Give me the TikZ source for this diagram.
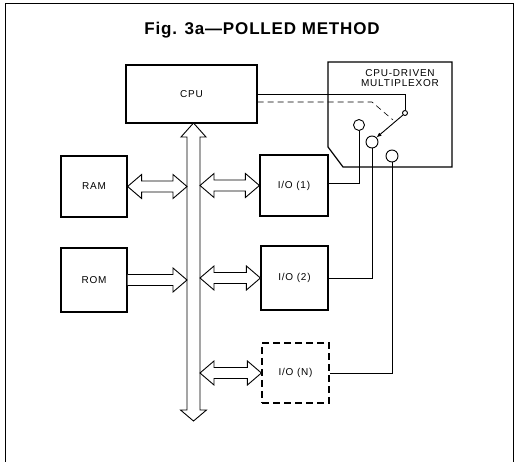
\documentclass[tikz,border=0pt]{standalone}
\usepackage{fontspec}
\setmainfont{Liberation Sans}
\usetikzlibrary{calc,arrows.meta}
\newcommand\fatdouble[2]{%
 \draw[fat] let \p1=(#1), \p2=(#2) in
 (\x1,\y1) -- (\x1+14pt,\y1+12pt) -- (\x1+14pt,\y1+5.5pt) -- (\x2-14pt,\y1+5.5pt) -- (\x2-14pt,\y1+12pt) -- (\x2,\y1)
 -- (\x2-14pt,\y1-12pt) -- (\x2-14pt,\y1-5.5pt) -- (\x1+14pt,\y1-5.5pt) -- (\x1+14pt,\y1-12pt) -- cycle;}
\newcommand\fatsingle[2]{%
 \draw[fat] let \p1=(#1), \p2=(#2) in
 (\x1,\y1+5.5pt) -- (\x2-14pt,\y1+5.5pt) -- (\x2-14pt,\y1+12pt) -- (\x2,\y1)
 -- (\x2-14pt,\y1-12pt) -- (\x2-14pt,\y1-5.5pt) -- (\x1,\y1-5.5pt);}
\begin{document}
\begin{tikzpicture}[x=1pt,y=-1pt,
  blk/.style={draw,line width=1.2pt,inner sep=0pt,font=\fontsize{10}{11}\selectfont\addfontfeature{LetterSpace=8}},
  fat/.style={draw,line width=0.9pt,line join=miter,fill=white},
  wire/.style={line width=0.6pt},
  pin/.style={draw,line width=0.9pt,circle,inner sep=0pt,fill=white}]
\useasboundingbox (0,0) rectangle (517,462);
% frame
\draw[line width=0.8pt] (5,462) -- (5,3) -- (513,3) -- (513,462);
\node[font=\bfseries\fontsize{17}{19}\selectfont\addfontfeature{LetterSpace=5}] (title) at (262,30) {Fig. 3a\textemdash POLLED METHOD};
% boxes
\node[blk,minimum width=131pt,minimum height=58pt] (cpu) at (191.5,94) {CPU};
\node[blk,minimum width=66pt,minimum height=61pt] (ram) at (94,186.5) {RAM};
\node[blk,minimum width=66pt,minimum height=64pt] (rom) at (94,280) {ROM};
\node[blk,minimum width=68pt,minimum height=61pt] (io1) at (294,185.5) {I/O (1)};
\node[blk,minimum width=67pt,minimum height=64pt] (io2) at (294.5,278) {I/O (2)};
\node[blk,dash pattern=on 7pt off 4pt,minimum width=67pt,minimum height=60pt] (ion) at (295.5,373) {I/O (N)};
% multiplexor
\coordinate (m1) at (328,62); \coordinate (m2) at (452,62); \coordinate (m3) at (452,167);
\coordinate (m4) at (343,167); \coordinate (m5) at (328,147);
\draw[line width=1.2pt] (m1) -- (m2) -- (m3) -- (m4) -- (m5) -- cycle;
\node[font=\fontsize{10}{10.5}\selectfont\addfontfeature{LetterSpace=8},align=center] (muxlbl) at (400,78) {CPU-DRIVEN\\MULTIPLEXOR};
% bus
\coordinate (btip) at (193.5,123);
\coordinate (bbot) at (193.5,421);
\draw[fat] (btip) -- (206,137) -- (200,137) -- (200,410) -- (206.5,410) -- (bbot) -- (180.5,410) -- (187,410) -- (187,137) -- (181,137) -- cycle;
\coordinate (bl1) at (187,186.5);
\coordinate (br1) at (200,185.5);
\coordinate (bl2) at (187,280);
\coordinate (br2) at (200,278);
\coordinate (br3) at (200,373);
\fatdouble{ram.east}{bl1}
\fatdouble{br1}{io1.west}
\fatsingle{rom.east}{bl2}
\fatdouble{br2}{io2.west}
\fatdouble{br3}{ion.west}
% switch
\node[pin,minimum size=5pt] (sw) at (405,113) {};
\node[pin,minimum size=11pt] (p1) at (359,125) {};
\node[pin,minimum size=12pt] (p2) at (372,142) {};
\node[pin,minimum size=12pt] (p3) at (392,156) {};
\draw[wire] (cpu.east |- 0,94) -- (405,94) -- (sw.north);
\draw[wire,dash pattern=on 6pt off 4pt] (cpu.east |- 0,102) -- (372,102) -- (393,120);
\draw[line width=0.9pt,-{Latex[length=5pt,width=4pt]}] (sw.south west) -- (p2.north east);
\draw[wire] (p1.south) -- (359,183) -- (io1.east |- 0,183);
\draw[wire] (p2.south) -- (372,278) -- (io2.east);
\draw[wire] (p3.south) -- (392,373) -- (ion.east);
\end{tikzpicture}
\end{document}
